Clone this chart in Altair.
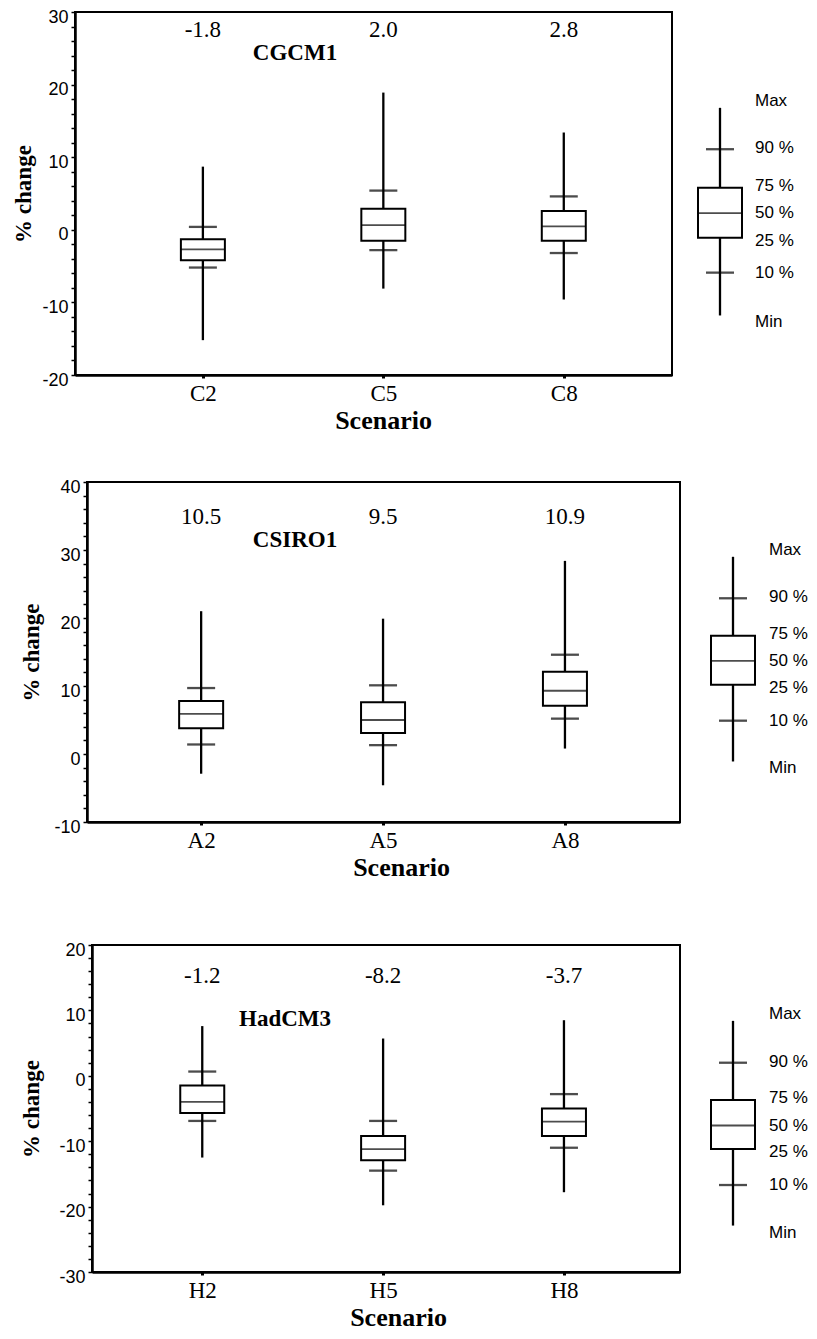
import altair as alt
import pandas as pd

# ---------------- data ----------------
panels = ["CGCM1", "CSIRO1", "HadCM3"]
scenarios = [["C2", "C5", "C8"], ["A2", "A5", "A8"], ["H2", "H5", "H8"]]
means = [["-1.8", "2.0", "2.8"], ["10.5", "9.5", "10.9"], ["-1.2", "-8.2", "-3.7"]]
y_domains = [[-20, 30], [-10, 40], [-30, 20]]

stat_min = [[-15.2, -8.1, -9.6], [-2.9, -4.6, 0.8], [-12.5, -19.8, -17.8]]
stat_p10 = [[-5.2, -2.8, -3.2], [1.4, 1.3, 5.2], [-6.9, -14.5, -11.0]]
stat_q1 = [[-4.2, -1.5, -1.5], [3.8, 3.1, 7.1], [-5.7, -12.9, -9.2]]
stat_med = [[-2.7, 0.65, 0.46], [5.9, 5.0, 9.3], [-4.0, -11.2, -7.0]]
stat_q3 = [[-1.3, 2.9, 2.6], [7.8, 7.6, 12.1], [-1.5, -9.2, -5.0]]
stat_p90 = [[0.4, 5.4, 4.6], [9.7, 10.1, 14.6], [0.65, -6.9, -2.8]]
stat_max = [[8.7, 18.9, 13.4], [21.0, 19.9, 28.4], [7.6, 5.7, 8.5]]

# key (explanatory) box drawn beside each panel
key_min = [-11.8, -1.1, -22.9]
key_p10 = [-5.9, 4.9, -16.7]
key_q1 = [-1.1, 10.2, -11.2]
key_med = [2.3, 13.7, -7.6]
key_q3 = [5.8, 17.4, -3.7]
key_p90 = [11.1, 22.9, 2.0]
key_max = [16.8, 29.0, 8.4]
key_labels = ["Min", "10 %", "25 %", "50 %", "75 %", "90 %", "Max"]

# ---------------- layout / style ----------------
SERIF = "Liberation Serif"
SANS = "Liberation Sans"
layout = [
    {"W": 597, "H": 363, "xdom": [0.319, 3.572], "left": 64, "top": 12, "tp": 6,
     "titleX": 308, "mean_y": 18, "name_x": 220, "name_y": 41, "key_x": 645, "lab_x": 680},
    {"W": 593, "H": 340, "xdom": [0.400, 3.605], "left": 76, "top": 47, "tp": 10,
     "titleX": 314, "mean_y": 35, "name_x": 208, "name_y": 58, "key_x": 646, "lab_x": 682},
    {"W": 588, "H": 327, "xdom": [0.418, 3.614], "left": 81, "top": 63, "tp": 15,
     "titleX": 306, "mean_y": 31, "name_x": 193, "name_y": 74, "key_x": 641, "lab_x": 677},
]
label_dy = {"Max": -7, "90 %": -1, "75 %": -2, "50 %": 0, "25 %": 3, "10 %": 0, "Min": 7}


def make_panel(i):
    L = layout[i]
    ydom = y_domains[i]
    df = pd.DataFrame({
        "pos": [1, 2, 3], "scen": scenarios[i], "mean": means[i],
        "mn": stat_min[i], "p10": stat_p10[i], "q1": stat_q1[i], "med": stat_med[i],
        "q3": stat_q3[i], "p90": stat_p90[i], "mx": stat_max[i],
    })
    cats = "[" + ",".join("'%s'" % s for s in scenarios[i]) + "]"
    xaxis = alt.Axis(values=[1, 2, 3], labelExpr=cats + "[datum.value - 1]",
                     title="Scenario", titleFont=SERIF, titleFontSize=26, titleFontWeight="bold",
                     titlePadding=2, titleX=L["titleX"], titleAlign="center",
                     labelFont=SERIF, labelFontSize=23, labelPadding=4,
                     tickSize=3, tickWidth=3, domainWidth=2.5, labelOverlap=False)
    yaxis = alt.Axis(values=list(range(ydom[0], ydom[1] + 1, 2)),
                     labelExpr="datum.value % 10 == 0 ? '' + datum.value : ''",
                     title="% change", titleFont=SERIF, titleFontSize=23, titleFontWeight="bold",
                     titlePadding=L["tp"], labelFont=SANS, labelFontSize=18, labelPadding=3,
                     labelOffset=5, tickSize=4, tickWidth=1.5, domainWidth=2.5, labelOverlap=False)
    xs = alt.Scale(domain=L["xdom"], nice=False, zero=False)
    ys = alt.Scale(domain=ydom, nice=False, zero=False)

    def X(f):
        return alt.X(f, type="quantitative", scale=xs, axis=xaxis)

    def Y(f):
        return alt.Y(f, type="quantitative", scale=ys, axis=yaxis)

    base = alt.Chart(df)
    whisk = base.mark_rule(color="black", strokeWidth=2.3).encode(x=X("pos"), y=Y("mn"), y2="mx:Q")
    cap_lo = base.mark_tick(orient="horizontal", size=28, thickness=2.3, color="black").encode(x=X("pos"), y=Y("p10"))
    cap_hi = base.mark_tick(orient="horizontal", size=28, thickness=2.3, color="black").encode(x=X("pos"), y=Y("p90"))
    box = base.mark_bar(size=44, color="white", stroke="black", strokeWidth=2).encode(x=X("pos"), y=Y("q1"), y2="q3:Q")
    med = base.mark_tick(orient="horizontal", size=44, thickness=1.8, color="black").encode(x=X("pos"), y=Y("med"))
    mean_txt = base.mark_text(font=SERIF, fontSize=23, color="black", baseline="middle").encode(
        x=X("pos"), y=alt.value(L["mean_y"]), text="mean:N")
    name = alt.Chart(pd.DataFrame({"name": [panels[i]]})).mark_text(
        font=SERIF, fontSize=23, fontWeight="bold", color="black", baseline="middle").encode(
        x=alt.value(L["name_x"]), y=alt.value(L["name_y"]), text="name:N")

    kdf = pd.DataFrame({"mn": [key_min[i]], "p10": [key_p10[i]], "q1": [key_q1[i]],
                        "med": [key_med[i]], "q3": [key_q3[i]], "p90": [key_p90[i]], "mx": [key_max[i]]})
    kb = alt.Chart(kdf)
    kx = L["key_x"]
    k_wh = kb.mark_rule(color="black", strokeWidth=2.3).encode(x=alt.value(kx), y=Y("mn"), y2="mx:Q")
    k_lo = kb.mark_tick(orient="horizontal", size=28, thickness=2.3, color="black").encode(x=alt.value(kx), y=Y("p10"))
    k_hi = kb.mark_tick(orient="horizontal", size=28, thickness=2.3, color="black").encode(x=alt.value(kx), y=Y("p90"))
    k_box = kb.mark_rect(color="white", stroke="black", strokeWidth=2).encode(
        x=alt.value(kx - 22), x2=alt.value(kx + 22), y=Y("q1"), y2="q3:Q")
    k_med = kb.mark_tick(orient="horizontal", size=44, thickness=1.8, color="black").encode(x=alt.value(kx), y=Y("med"))

    lab_vals = [key_min[i], key_p10[i], key_q1[i], key_med[i], key_q3[i], key_p90[i], key_max[i]]
    ldf = pd.DataFrame({"lab": key_labels, "val": lab_vals})
    lab_layers = []
    for dy in sorted(set(label_dy.values())):
        labs = [k for k, v in label_dy.items() if v == dy]
        lab_layers.append(
            alt.Chart(ldf[ldf["lab"].isin(labs)]).mark_text(
                font=SANS, fontSize=17, color="black", align="left", baseline="middle", dy=dy).encode(
                x=alt.value(L["lab_x"]), y=Y("val"), text="lab:N"))

    # invisible rule that fixes how far the panel's content reaches left and up
    spacer = alt.Chart(pd.DataFrame({"a": [0]})).mark_rule(opacity=0).encode(
        x=alt.value(-L["left"]), y=alt.value(-L["top"]), y2=alt.value(0))

    panel = alt.layer(spacer, whisk, box, med, cap_lo, cap_hi, mean_txt, name,
                      k_wh, k_box, k_med, k_lo, k_hi, *lab_layers).properties(width=L["W"], height=L["H"])

    lead = alt.Chart(pd.DataFrame({"a": [0]})).mark_point(opacity=0, size=1).encode(
        x=alt.value(0), y=alt.value(0)).properties(
        width=1, height=1, view=alt.ViewBackground(strokeOpacity=0))
    return alt.hconcat(lead, panel, spacing=0)


rows = [make_panel(i) for i in range(3)]
chart = alt.vconcat(*rows, spacing=0,
                    padding={"left": 0, "top": -9, "right": 0, "bottom": 0}).configure_view(
    stroke="black", strokeWidth=2).configure_axis(
    grid=False, domainColor="black", tickColor="black", labelColor="black", titleColor="black")

chart.save("out.html", embed_options={"renderer": "svg", "actions": False})
